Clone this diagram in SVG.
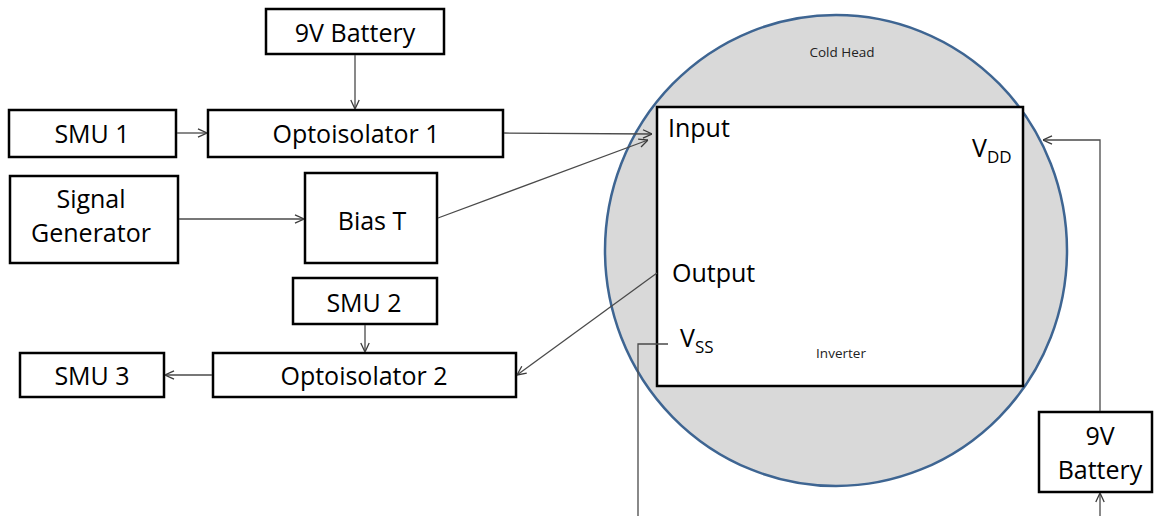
<svg xmlns="http://www.w3.org/2000/svg" width="1156" height="516" viewBox="0 0 1156 516">
  <style>
    .box { fill: #ffffff; stroke: #000000; stroke-width: 2.5; }
    .lbl { font-family: "Open Sans", "Liberation Sans", sans-serif; font-size: 25px; fill: #000000; text-anchor: middle; }
    .pin { font-family: "Open Sans", "Liberation Sans", sans-serif; font-size: 25px; fill: #000000; }
    .sub { font-size: 17px; }
    .small { font-family: "Open Sans", "Liberation Sans", sans-serif; font-size: 13.5px; fill: #222222; text-anchor: middle; }
    .wire { fill: none; stroke: #4a4a4a; stroke-width: 1.3; }
  </style>
  <defs>
    <marker id="arrow" viewBox="0 0 10 10" refX="10" refY="5" markerWidth="10" markerHeight="10" markerUnits="userSpaceOnUse" orient="auto">
      <path d="M1,0.8 L10,5 L1,9.2" fill="none" stroke="#3a3a3a" stroke-width="1.3"/>
    </marker>
  </defs>

  <!-- cryostat cold head with the inverter inside -->
  <g id="cold-head">
    <ellipse cx="836" cy="250.5" rx="231" ry="235.5" fill="#d9d9d9" stroke="#3e6592" stroke-width="2.5"/>
    <text class="small" x="842" y="57">Cold Head</text>
  </g>
  <g id="inverter">
    <rect class="box" x="657" y="107" width="366" height="279"/>
    <text class="pin" x="668" y="137">Input</text>
    <text class="pin" x="672" y="282">Output</text>
    <text class="pin" x="972" y="157">V<tspan class="sub" dy="6">DD</tspan></text>
    <text class="pin" x="680" y="347">V<tspan class="sub" dy="6">SS</tspan></text>
    <text class="small" x="841" y="358">Inverter</text>
  </g>

  <!-- instruments -->
  <g id="battery-top">
    <rect class="box" x="266" y="9" width="178" height="45"/>
    <text class="lbl" x="355" y="42">9V Battery</text>
  </g>
  <g id="smu1">
    <rect class="box" x="9" y="110" width="167" height="47"/>
    <text class="lbl" x="92" y="143">SMU 1</text>
  </g>
  <g id="opto1">
    <rect class="box" x="208" y="110" width="295" height="47"/>
    <text class="lbl" x="356" y="143">Optoisolator 1</text>
  </g>
  <g id="signal-generator">
    <rect class="box" x="10" y="176" width="168" height="87"/>
    <text class="lbl" x="91" y="208">Signal</text>
    <text class="lbl" x="91" y="242">Generator</text>
  </g>
  <g id="bias-t">
    <rect class="box" x="305" y="173" width="132" height="90"/>
    <text class="lbl" x="372" y="230">Bias T</text>
  </g>
  <g id="smu2">
    <rect class="box" x="293" y="278" width="144" height="46"/>
    <text class="lbl" x="364" y="312">SMU 2</text>
  </g>
  <g id="opto2">
    <rect class="box" x="213" y="353" width="303" height="44"/>
    <text class="lbl" x="364" y="385">Optoisolator 2</text>
  </g>
  <g id="smu3">
    <rect class="box" x="20" y="353" width="144" height="44"/>
    <text class="lbl" x="92" y="385">SMU 3</text>
  </g>
  <g id="battery-right">
    <rect class="box" x="1039" y="412" width="113" height="80"/>
    <text class="lbl" x="1100" y="445">9V</text>
    <text class="lbl" x="1100" y="479">Battery</text>
  </g>

  <!-- wiring -->
  <g id="connectors">
    <line class="wire" x1="355" y1="55" x2="355" y2="109" marker-end="url(#arrow)"/>
    <line class="wire" x1="177" y1="133" x2="207" y2="133" marker-end="url(#arrow)"/>
    <line class="wire" x1="504" y1="133" x2="652" y2="134" marker-end="url(#arrow)"/>
    <line class="wire" x1="438" y1="218" x2="648" y2="140" marker-end="url(#arrow)"/>
    <line class="wire" x1="179" y1="219" x2="304" y2="219" marker-end="url(#arrow)"/>
    <line class="wire" x1="365" y1="325" x2="365" y2="352" marker-end="url(#arrow)"/>
    <line class="wire" x1="212" y1="375" x2="165" y2="375" marker-end="url(#arrow)"/>
    <line class="wire" x1="657" y1="273" x2="517" y2="375" marker-end="url(#arrow)"/>
    <polyline class="wire" points="668,344 638,344 638,516"/>
    <polyline class="wire" points="1100,411 1100,140 1043,140" marker-end="url(#arrow)"/>
    <line class="wire" x1="1100" y1="516" x2="1100" y2="493" marker-end="url(#arrow)"/>
  </g>
</svg>
